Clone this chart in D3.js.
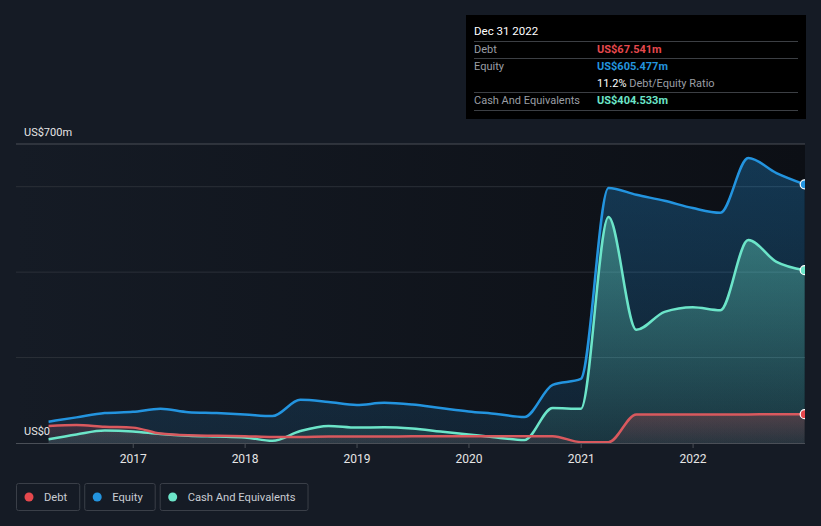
<!DOCTYPE html>
<html><head><meta charset="utf-8">
<script src="https://cdn.jsdelivr.net/npm/d3@7"></script>
<style>
html,body{margin:0;padding:0;background:#151b25;}
svg{display:block;font-family:Roboto,"Noto Sans",sans-serif;}
</style></head>
<body><svg id="c" width="821" height="526"></svg>
<script>
const quarters = ["2016-03-31","2016-06-30","2016-09-30","2016-12-31","2017-03-31","2017-06-30","2017-09-30","2017-12-31","2018-03-31","2018-06-30","2018-09-30","2018-12-31","2019-03-31","2019-06-30","2019-09-30","2019-12-31","2020-03-31","2020-06-30","2020-09-30","2020-12-31","2021-03-31","2021-06-30","2021-09-30","2021-12-31","2022-03-31","2022-06-30","2022-09-30","2022-12-31"];
const debt   = [40,42,38,36,22,18,17,16,14,14,15,15,15,16,16,16,16,16,16,2,2,67,67,67,67,67,67.5,67.541];
const equity = [50,60,70,73,80,72,70,67,63,101,96,89,94,90,82,74,68,61,136,150,597,581,567,550,539,667,632,605.477];
const cash   = [9,20,29,27,21,17,15,13,5,28,40,36,37,34,27,20,13,7,82,80,529,265,307,318,311,475,424,404.533];
const yearTicks = ["2017","2018","2019","2020","2021","2022"];
const yTopLabel = "US$700m", yZeroLabel = "US$0";
const tipTitle = "Dec 31 2022";
const tipRows = [
  {label:"Debt", value:"US$67.541m", color:"#e5484d"},
  {label:"Equity", value:"US$605.477m", color:"#2394df"},
  {label:"", value:"11.2%", extra:" Debt/Equity Ratio", color:"#ffffff"},
  {label:"Cash And Equivalents", value:"US$404.533m", color:"#6ce5c9"}
];
const legendItems = [{name:"Debt",color:"#e5484d"},{name:"Equity",color:"#2394df"},{name:"Cash And Equivalents",color:"#6ce5c9"}];

const svg = d3.select("#c");
const parse = d3.timeParse("%Y-%m-%d");
const dates = quarters.map(parse);
const x = d3.scaleTime().domain([new Date(2016,0,1), new Date(2023,0,1)]).range([21, 805]);
const y = d3.scaleLinear().domain([0,700]).range([443,144]);
const L = 16, R = 805;

const defs = svg.append("defs");
const bg = defs.append("linearGradient").attr("id","bgG").attr("x1",0).attr("x2",1).attr("y1",0).attr("y2",0);
bg.append("stop").attr("offset",0).attr("stop-color","#151b25");
bg.append("stop").attr("offset",1).attr("stop-color","#0c0f15");
const eg = defs.append("linearGradient").attr("id","eqG").attr("x1",0).attr("x2",0).attr("y1",0).attr("y2",1);
eg.append("stop").attr("offset",0).attr("stop-color","#2394df").attr("stop-opacity",0.3);
eg.append("stop").attr("offset",1).attr("stop-color","#2394df").attr("stop-opacity",0.12);
const cg = defs.append("linearGradient").attr("id","caG").attr("x1",0).attr("x2",0).attr("y1",0).attr("y2",1);
cg.append("stop").attr("offset",0).attr("stop-color","#6ce5c9").attr("stop-opacity",0.4);
cg.append("stop").attr("offset",1).attr("stop-color","#6ce5c9").attr("stop-opacity",0.1);
const dg = defs.append("linearGradient").attr("id","deG").attr("x1",0).attr("x2",0).attr("y1",0).attr("y2",1);
dg.append("stop").attr("offset",0).attr("stop-color","#e5484d").attr("stop-opacity",0.25);
dg.append("stop").attr("offset",1).attr("stop-color","#e5484d").attr("stop-opacity",0.08);
defs.append("clipPath").attr("id","clp").append("rect").attr("x",L).attr("y",100).attr("width",R-L).attr("height",344);

svg.append("rect").attr("x",L).attr("y",144).attr("width",R-L).attr("height",299).attr("fill","url(#bgG)");

[200,400,600].forEach(v=>{
  svg.append("line").attr("x1",L).attr("x2",R).attr("y1",y(v)).attr("y2",y(v)).attr("stroke","#2b3038").attr("stroke-width",1);
});
svg.append("line").attr("x1",L).attr("x2",R).attr("y1",y(700)).attr("y2",y(700)).attr("stroke","#4a4f57").attr("stroke-width",1);

const g = svg.append("g").attr("clip-path","url(#clp)");
const series = [
  {vals:equity, color:"#2394df", fill:"url(#eqG)"},
  {vals:cash, color:"#6ce5c9", fill:"url(#caG)"},
  {vals:debt, color:"#d9595e", fill:"url(#deG)"}
];
series.forEach(s=>{
  const area = d3.area().x((d,i)=>x(dates[i])).y0(y(0)).y1(d=>y(d)).curve(d3.curveMonotoneX);
  g.append("path").datum(s.vals).attr("d",area).attr("fill",s.fill);
});
series.forEach(s=>{
  const line = d3.line().x((d,i)=>x(dates[i])).y(d=>y(d)).curve(d3.curveMonotoneX);
  g.append("path").datum(s.vals).attr("d",line).attr("fill","none").attr("stroke",s.color).attr("stroke-width",2.5);
});
const dotColors = ["#2394df","#6ce5c9","#e5484d"];
[equity,cash,debt].forEach((vals,k)=>{
  const n = vals.length-1;
  g.append("circle").attr("cx",x(dates[n])).attr("cy",y(vals[n])).attr("r",4.5).attr("fill",dotColors[k]).attr("stroke","#ffffff").attr("stroke-width",1.2);
});

svg.append("line").attr("x1",L).attr("x2",R).attr("y1",443.5).attr("y2",443.5).attr("stroke","#4a4f57");
yearTicks.forEach(t=>{
  const xx = x(new Date(+t,0,1));
  svg.append("line").attr("x1",xx).attr("x2",xx).attr("y1",443).attr("y2",448).attr("stroke","#4a4f57");
  svg.append("text").attr("x",xx).attr("y",463).attr("text-anchor","middle").attr("fill","#e6e6e6").attr("font-size",12).text(t);
});
svg.append("text").attr("x",24).attr("y",136).attr("fill","#e6e6e6").attr("font-size",11).text(yTopLabel);
svg.append("text").attr("x",24).attr("y",435).attr("fill","#e6e6e6").attr("font-size",11).text(yZeroLabel);

const tip = svg.append("g");
tip.append("rect").attr("x",466).attr("y",15).attr("width",340).attr("height",104).attr("fill","#000");
tip.append("text").attr("x",474).attr("y",35).attr("fill","#fff").attr("font-size",11.5).text(tipTitle);
[41,58,92,110].forEach(yy=>tip.append("line").attr("x1",474).attr("x2",798).attr("y1",yy+0.5).attr("y2",yy+0.5).attr("stroke","#3c3f44"));
const rowY = [53,70,87,104];
tipRows.forEach((r,i)=>{
  if(r.label) tip.append("text").attr("x",474).attr("y",rowY[i]).attr("fill","#9a9ea4").attr("font-size",11).text(r.label);
  const t = tip.append("text").attr("x",597).attr("y",rowY[i]).attr("font-size",11);
  t.append("tspan").attr("fill",r.color).attr("font-weight",r.extra?"normal":"bold").text(r.value);
  if(r.extra) t.append("tspan").attr("fill","#9a9ea4").text(r.extra);
});

const lg = svg.append("g");
let lx = 16;
legendItems.forEach(it=>{
  const tmp = lg.append("text").attr("font-size",11.2).text(it.name);
  const w = tmp.node().getComputedTextLength();
  tmp.remove();
  const bw = w + 40;
  lg.append("rect").attr("x",lx+0.5).attr("y",483.5).attr("width",bw).attr("height",27).attr("rx",2).attr("fill","none").attr("stroke","#3a3f48");
  lg.append("circle").attr("cx",lx+13).attr("cy",497).attr("r",4.5).attr("fill",it.color);
  lg.append("text").attr("x",lx+28).attr("y",501).attr("fill","#c8ccd2").attr("font-size",11.2).text(it.name);
  lx += bw + 5;
});
</script></body></html>
